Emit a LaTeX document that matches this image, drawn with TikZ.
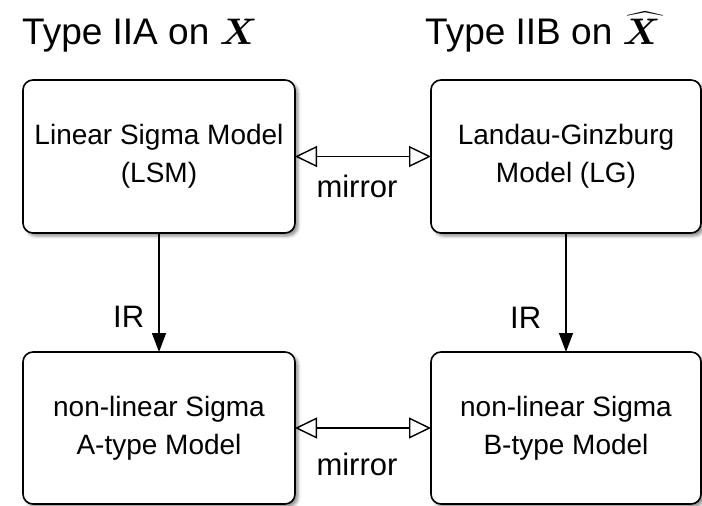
\RequirePackage{fix-cm}
\documentclass[tikz,border=0pt]{standalone}
\usepackage{amsmath}
\usepackage{bm}
\usepackage{fontspec}
\setmainfont{Liberation Sans}
\usetikzlibrary{arrows.meta,shadows.blur}

\tikzset{
  model/.style={draw=black, line width=1.6pt, fill=white, rounded corners=10pt,
    align=center, inner sep=0pt, outer sep=0pt,
    font=\fontsize{28}{38}\selectfont,
    blur shadow={shadow xshift=3pt, shadow yshift=-3pt, shadow blur radius=3pt, shadow opacity=45}},
  mirrorarrow/.style={line width=1.4pt, {Triangle[open, length=22pt, width=21pt]}-{Triangle[open, length=22pt, width=21pt]}},
  irarrow/.style={line width=1.3pt, -{Triangle[length=19pt, width=14pt]}},
  lbl/.style={inner sep=0pt, font=\fontsize{31}{36}\selectfont},
  title/.style={inner sep=0pt, font=\fontsize{37}{44}\selectfont}
}

\begin{document}
\begin{tikzpicture}[x=1pt, y=-1pt]
  \useasboundingbox (0,0) rectangle (702,506);

  % column headings
  \node[title, anchor=base west] (ta) at (22,45) {Type IIA on $\bm{X}$};
  \node[title, anchor=base west] (tb) at (425,45) {Type IIB on $\widehat{\bm{X}}$};

  % the four models
  \node[model, minimum width=272pt, minimum height=153pt] (lsm) at (159,156.5)
    {Linear Sigma Model\\(LSM)};
  \node[model, minimum width=270pt, minimum height=153pt] (lg) at (566,156.5)
    {Landau-Ginzburg\\Model (LG)};
  \node[model, minimum width=272pt, minimum height=152pt] (nla) at (159,428)
    {non-linear Sigma\\A-type Model};
  \node[model, minimum width=270pt, minimum height=152pt] (nlb) at (566,428)
    {non-linear Sigma\\B-type Model};

  % mirror symmetry
  \draw[mirrorarrow] (lsm.east) -- (lg.west);
  \draw[mirrorarrow] (nla.east) -- (nlb.west);
  \node[lbl, anchor=base] (m1) at (357,197) {mirror};
  \node[lbl, anchor=base] (m2) at (357,475) {mirror};

  % renormalisation flow to the infrared
  \draw[irarrow] (lsm.south) -- (nla.north);
  \draw[irarrow] (lg.south) -- (nlb.north);
  \node[lbl, anchor=base west] (ir1) at (113,327) {IR};
  \node[lbl, anchor=base west] (ir2) at (510,328) {IR};
\end{tikzpicture}
\end{document}
